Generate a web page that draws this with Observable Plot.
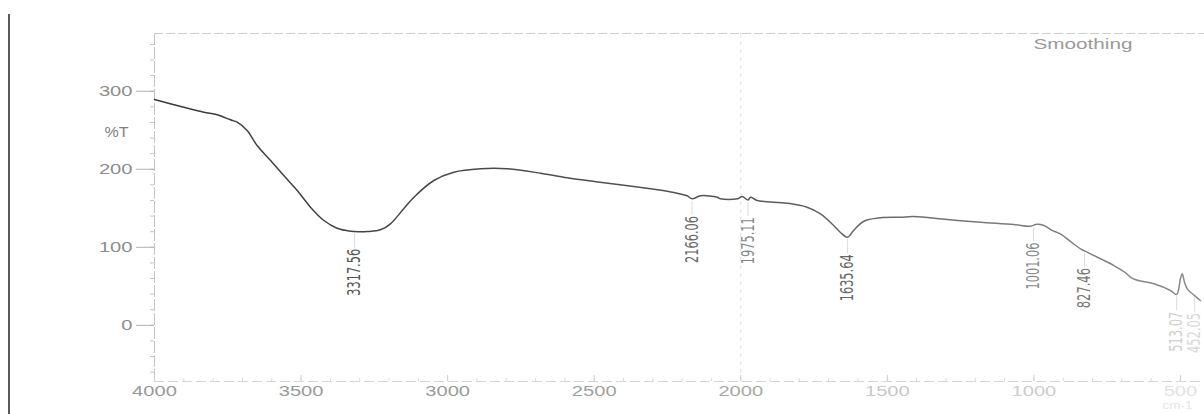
<!DOCTYPE html>
<html><head><meta charset="utf-8">
<script src="https://cdn.jsdelivr.net/npm/d3@7"></script>
<script src="https://cdn.jsdelivr.net/npm/@observablehq/plot@0.6"></script>
<style>
html,body{margin:0;padding:0;background:#fff;}
#wrap{position:relative;width:1204px;height:414px;overflow:hidden;}
#edge{position:absolute;left:8px;top:14px;width:2px;height:400px;background:#5a5a5a;}
svg{display:block;}
</style></head><body><div id="wrap"><div id="edge"></div></div>
<script>
// Spectrum (wavenumber cm-1, %T)
const wavenumber = [4000, 3900, 3832, 3786, 3741, 3718, 3684, 3650, 3604, 3559, 3513, 3468, 3422, 3377, 3331, 3300, 3274, 3229, 3195, 3150, 3115, 3047, 2979, 2888, 2797, 2683, 2592, 2480, 2365, 2251, 2183, 2166, 2137, 2080, 2069, 2012, 1995, 1975, 1967, 1944, 1842, 1774, 1728, 1683, 1660, 1636, 1615, 1580, 1523, 1455, 1410, 1296, 1182, 1069, 1012, 990, 966, 940, 910, 870, 841, 827, 807, 727, 690, 670, 650, 591, 534, 513, 500, 494, 486, 477, 452, 432];
const transmittance = [289.4, 279.5, 273.1, 269.8, 263.4, 260.3, 249.6, 230.4, 211.2, 192, 172.8, 151.4, 134.3, 124.4, 120.6, 120, 120.2, 122.4, 130.1, 149.3, 164.2, 185.6, 196.2, 200.6, 200.6, 194.9, 189, 183.4, 177.9, 171.9, 166, 162.1, 166, 164.2, 162.1, 162.1, 165, 160.5, 164.2, 160, 156.5, 151.4, 142.9, 127.9, 119, 112.9, 121.5, 133.4, 137.8, 138.5, 139.4, 135.6, 132.1, 129.2, 127, 129.5, 128, 122, 117.3, 106, 98, 95.4, 91.6, 76.6, 68, 61.6, 58, 53.2, 44.6, 39.5, 60, 66, 55, 46.8, 38, 31.8];

const peakWavenumbers = [3317.56, 2166.06, 1975.11, 1635.64, 1001.06, 827.46, 513.07, 452.05];
const peakLabels = ["3317.56", "2166.06", "1975.11", "1635.64", "1001.06", "827.46", "513.07", "452.05"];
const peakTransmittance = [120, 162.1, 160.5, 112.9, 128, 95.4, 39.5, 38];

const xTicks = [4000, 3500, 3000, 2500, 2000, 1500, 1000, 500];
const xTickLabels = ["4000", "3500", "3000", "2500", "2000", "1500", "1000", "500"];
const yTicks = [0, 100, 200, 300];
const yTickLabels = ["0", "100", "200", "300"];
const yLabel = "%T";
const xUnit = "cm-1";
const note = "Smoothing";

const spectrum = wavenumber.map((w, i) => ({w, t: transmittance[i]}));
const peaks = peakWavenumbers.map((w, i) => ({w, t: peakTransmittance[i], label: peakLabels[i], i}));
const peakColors = ["#555", "#666", "#888", "#666", "#888", "#777", "#cfcfcf", "#d8d8d8"];
const xLabelColors = ["#999", "#9a9a9a", "#9a9a9a", "#a0a0a0", "#a8a8a8", "#c8c8c8", "#cccccc", "#e2e2e2"];
const LABEL_GAP = 22;

const chart = Plot.plot({
  width: 1204, height: 414,
  marginLeft: 154, marginRight: 0, marginTop: 33, marginBottom: 33,
  x: {domain: [4000, 418], axis: null},
  y: {domain: [-72, 374], axis: null},
  style: {fontFamily: "'Liberation Sans', Arial, sans-serif", fontSize: "14px", background: "transparent", overflow: "visible"},
  marks: [
    Plot.ruleY([374], {stroke: "#cfcfcf", strokeDasharray: "9,3"}),
    Plot.ruleY([-72], {stroke: "#d6d6d6", strokeDasharray: "10,4"}),
    Plot.ruleX([4000], {stroke: "#c4c4c4", strokeDasharray: "12,2"}),
    Plot.ruleX([2000], {stroke: "#e0e0e0", strokeDasharray: "4,4"}),
    Plot.axisY({ticks: d3.range(-60, 374, 20), tickSize: 4, text: null, label: null, stroke: "#c4c4c4"}),
    Plot.axisY({ticks: yTicks, tickSize: 18, text: null, label: null, stroke: "#b0b0b0"}),
    Plot.axisX({ticks: d3.range(500, 4001, 100), tickSize: -3, text: null, label: null, stroke: "#dadada", anchor: "bottom"}),
    Plot.axisX({ticks: xTicks, tickSize: -6, text: null, label: null, stroke: "#cfcfcf", anchor: "bottom"}),
    Plot.text(yTicks, {y: d => d, frameAnchor: "left", dx: -22, textAnchor: "end", text: d => yTickLabels[yTicks.indexOf(d)], fill: "#8c8c8c", className: "hlab"}),
    Plot.text([yLabel], {frameAnchor: "left", dx: -26, dy: -75, textAnchor: "end", fill: "#808080", className: "hlab"}),
    Plot.text(xTicks, {x: d => d, frameAnchor: "bottom", dy: 14, text: d => xTickLabels[xTicks.indexOf(d)], fill: d => xLabelColors[xTicks.indexOf(d)], className: "hlab"}),
    Plot.text([xUnit], {x: 500, frameAnchor: "bottom", dy: 27, dx: -18, textAnchor: "start", fill: "#e4e4e4", fontSize: 10, className: "hlab"}),
    Plot.text([note], {frameAnchor: "top-right", dx: -72, dy: 6, textAnchor: "end", fill: "#9a9a9a", className: "hlab"}),
    Plot.ruleX(peaks, {x: "w", y1: d => d.t - 3, y2: d => d.t - LABEL_GAP + 1, stroke: "#d4d4d4", strokeWidth: 0.8}),
    Plot.line(spectrum, {x: "w", y: "t", stroke: "url(#lineGrad)", strokeWidth: 1.5, curve: "catmull-rom"}),
    Plot.text(peaks, {x: "w", y: d => d.t - LABEL_GAP, text: "label", rotate: -90, textAnchor: "end", fill: d => peakColors[d.i], fontSize: 18, fontFamily: "'Liberation Sans Narrow', 'DejaVu Sans Condensed', sans-serif", className: "peak"})
  ]
});

const svg = d3.select(chart);
const defs = svg.insert("defs", ":first-child");
const grad = defs.append("linearGradient").attr("id", "lineGrad").attr("gradientUnits", "userSpaceOnUse")
  .attr("x1", 154).attr("x2", 1204).attr("y1", 0).attr("y2", 0);
grad.append("stop").attr("offset", "0%").attr("stop-color", "#3a3a3a");
grad.append("stop").attr("offset", "55%").attr("stop-color", "#555");
grad.append("stop").attr("offset", "80%").attr("stop-color", "#7a7a7a");
grad.append("stop").attr("offset", "100%").attr("stop-color", "#8a8a8a");

svg.selectAll(".hlab text").each(function() {
  const t = this.textContent;
  let len = t.length * 11.2;
  if (t === yLabel) len = 24;
  if (t === note) len = 99;
  if (t === xUnit) len = 30;
  d3.select(this).attr("textLength", len).attr("lengthAdjust", "spacingAndGlyphs");
});
svg.selectAll(".peak text").each(function() {
  const t = this.textContent;
  d3.select(this).attr("textLength", t.length * 6.7).attr("lengthAdjust", "spacingAndGlyphs");
});

document.getElementById("wrap").appendChild(chart);
</script>
</body></html>
